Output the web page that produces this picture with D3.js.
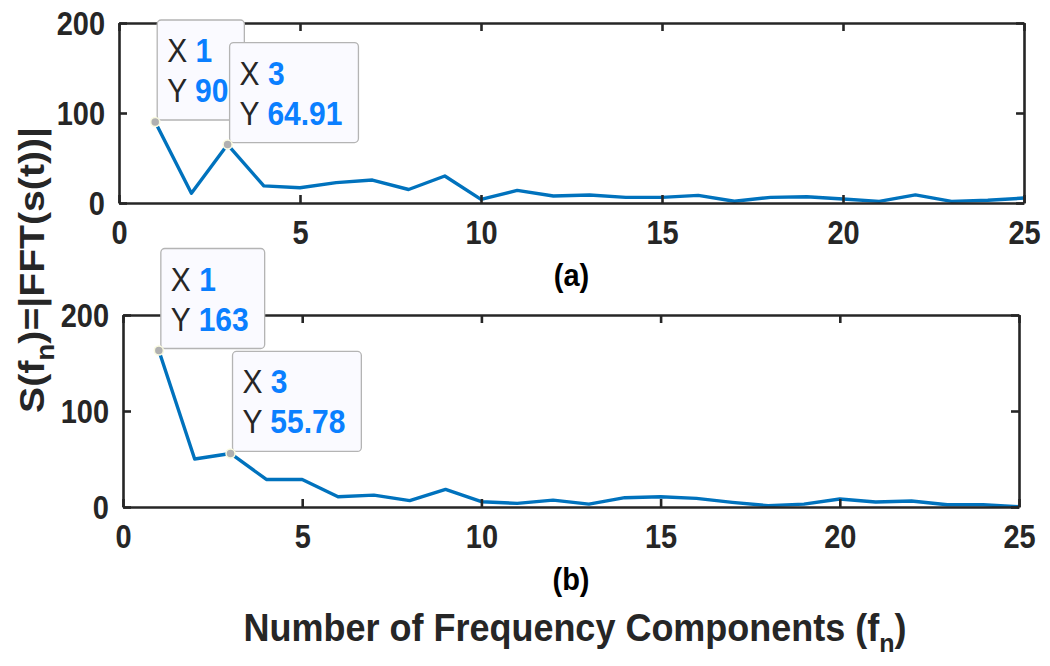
<!DOCTYPE html>
<html>
<head>
<meta charset="utf-8" />
<title>FFT spectra</title>
<script src="https://d3js.org/d3.v7.min.js"></script>
<style>
  body { margin: 0; background: white; }
  text { font-family: "Liberation Sans", Arial, Helvetica, sans-serif; }
</style>
</head>
<body>
<svg id="chart" width="1050" height="666"></svg>

<script>
// frequency component index
var freqN = [1, 2, 3, 4, 5, 6, 7, 8, 9, 10, 11, 12, 13, 14, 15, 16, 17, 18, 19, 20, 21, 22, 23, 24, 25];

// |FFT| values, panel (a)
var specA = [90, 10.8, 64.91, 19, 17, 22.6, 25.5, 15, 30, 4, 14, 7.8, 8.9, 6.3, 6.3, 8.5, 2, 6.3, 7, 4.4, 1.8, 9, 1.8, 3, 5.5];

// |FFT| values, panel (b)
var specB = [163, 50, 55.78, 28.7, 28.7, 10.7, 12.4, 6.6, 18.3, 5.5, 3.8, 7.2, 3, 9.7, 10.7, 9, 4.8, 1.4, 3, 8.3, 5.2, 6.2, 2.4, 2.4, 0.3];

// tick labels
var xTicks = [0, 5, 10, 15, 20, 25];
var yTicks = [0, 100, 200];

// data tips (index of the point + text shown)
var tipsA = [{ x: 1, y: 90, label: "90" }, { x: 3, y: 64.91, label: "64.91" }];
var tipsB = [{ x: 1, y: 163, label: "163" }, { x: 3, y: 55.78, label: "55.78" }];

var svg = d3.select("#chart");
var axisColor = "#262626";
var lineColor = "#0072BD";
var tipBlue = "#0a7fff";

function drawPanel(box, values, tips, tag) {
    var x = d3.scaleLinear().domain([0, 25]).range([box.left, box.right]);
    var y = d3.scaleLinear().domain([0, 200]).range([box.bottom, box.top]);

    var g = svg.append("g");

    // the curve
    var pts = freqN.map(function(n, i) { return [n, values[i]]; });
    g.append("path")
        .datum(pts)
        .attr("fill", "none")
        .attr("stroke", lineColor)
        .attr("stroke-width", 3.4)
        .attr("stroke-linejoin", "round")
        .attr("d", d3.line().x(function(d) { return x(d[0]); }).y(function(d) { return y(d[1]); }));

    // axes, ticks pointing inward, mirrored on top and right
    var bottom = g.append("g").attr("transform", "translate(0," + box.bottom + ")")
        .call(d3.axisBottom(x).tickValues(xTicks).tickSize(-8).tickSizeOuter(0).tickPadding(13));
    var left = g.append("g").attr("transform", "translate(" + box.left + ",0)")
        .call(d3.axisLeft(y).tickValues(yTicks).tickSize(-8).tickSizeOuter(0).tickPadding(14));
    var top = g.append("g").attr("transform", "translate(0," + box.top + ")")
        .call(d3.axisTop(x).tickValues(xTicks).tickSize(-8).tickSizeOuter(0).tickFormat(""));
    var right = g.append("g").attr("transform", "translate(" + box.right + ",0)")
        .call(d3.axisRight(y).tickValues(yTicks).tickSize(-8).tickSizeOuter(0).tickFormat(""));

    [bottom, left, top, right].forEach(function(a) {
        a.selectAll("path, line").attr("stroke", axisColor).attr("stroke-width", 2.6);
        a.selectAll("text")
            .attr("fill", axisColor)
            .attr("transform", "scale(1,1.12)")
            .style("font-size", "29px")
            .style("font-weight", "bold");
    });
    bottom.selectAll("text").attr("dy", "0.8em");
    left.selectAll("text").attr("dy", "0.36em");

    // panel tag (a)/(b)
    g.append("text")
        .attr("transform", "translate(" + ((box.left + box.right) / 2) + "," + (box.bottom + 83) + ") scale(1,1.1)")
        .attr("text-anchor", "middle")
        .attr("fill", "black")
        .style("font-size", "29px")
        .style("font-weight", "bold")
        .text(tag);

    // data tips
    tips.forEach(function(t) {
        var px = x(t.x), py = y(t.y);
        var tg = g.append("g");
        var rect = tg.append("rect")
            .attr("rx", 4).attr("ry", 4)
            .attr("fill", "#fafaff")
            .attr("stroke", "#b4b4b4")
            .attr("stroke-width", 1.3);
        var l1 = tg.append("text")
            .attr("transform", "translate(" + (px + 12) + "," + (py - 60) + ") scale(1,1.1)")
            .style("font-size", "30px");
        l1.append("tspan").attr("fill", axisColor).text("X ");
        l1.append("tspan").attr("fill", tipBlue).style("font-weight", "bold").text(t.x);
        var l2 = tg.append("text")
            .attr("transform", "translate(" + (px + 12) + "," + (py - 20) + ") scale(1,1.1)")
            .style("font-size", "30px");
        l2.append("tspan").attr("fill", axisColor).text("Y ");
        l2.append("tspan").attr("fill", tipBlue).style("font-weight", "bold").text(t.label);

        var w = Math.max(l1.node().getBBox().width, l2.node().getBBox().width) + 26;
        rect.attr("x", px + 2).attr("y", py - 102).attr("width", w).attr("height", 100);

        tg.append("circle")
            .attr("cx", px).attr("cy", py).attr("r", 4.5)
            .attr("fill", "#b0b0b0")
            .attr("stroke", "#fafae0")
            .attr("stroke-width", 1.5);
    });
}

drawPanel({ left: 119, right: 1024, top: 23, bottom: 203 }, specA, tipsA, "(a)");
drawPanel({ left: 123, right: 1019, top: 315, bottom: 507 }, specB, tipsB, "(b)");

// shared y label
var yl = svg.append("text")
    .attr("transform", "translate(44,270) rotate(-90) scale(1.12,1)")
    .attr("text-anchor", "middle")
    .attr("fill", axisColor)
    .style("font-size", "35px")
    .style("font-weight", "bold");
yl.append("tspan").text("S(f");
yl.append("tspan").attr("dy", 10).style("font-size", "25px").text("n");
yl.append("tspan").attr("dy", -10).text(")=|FFT(s(t))|");

// x label
var xl = svg.append("text")
    .attr("transform", "translate(575,641) scale(1,1.06)")
    .attr("text-anchor", "middle")
    .attr("fill", axisColor)
    .style("font-size", "36px")
    .style("font-weight", "bold");
xl.append("tspan").text("Number of Frequency Components (f");
xl.append("tspan").attr("dy", 10).style("font-size", "25px").text("n");
xl.append("tspan").attr("dy", -10).text(")");
</script>
</body>
</html>
